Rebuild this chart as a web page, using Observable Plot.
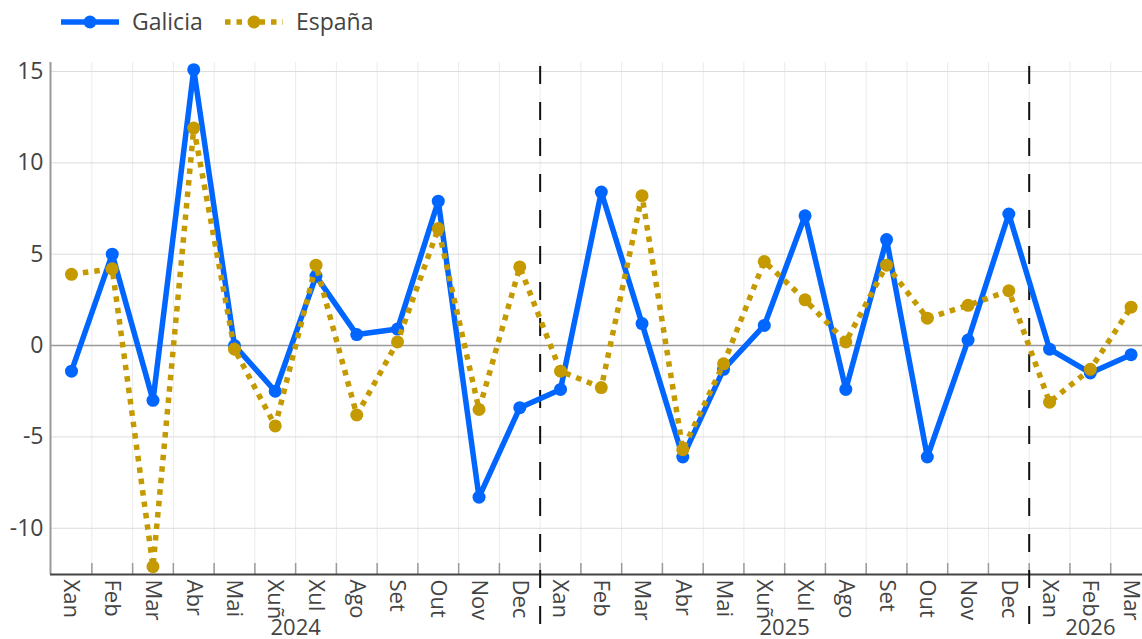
<!DOCTYPE html>
<html>
<head>
<meta charset="utf-8">
<script src="https://cdn.jsdelivr.net/npm/d3@7"></script>
<script src="https://cdn.jsdelivr.net/npm/@observablehq/plot@0.6"></script>
<style>
  html, body { margin: 0; padding: 0; background: #fff; }
  body { width: 1142px; height: 639px; overflow: hidden; font-family: "Open Sans", sans-serif; }
  #legend { height: 40px; }
  #legend svg, #chart svg { display: block; }
</style>
</head>
<body>
<div id="legend"></div>
<div id="chart"></div>
<script>
// ---- data ----
const monthLabels = ["Xan","Feb","Mar","Abr","Mai","Xuñ","Xul","Ago","Set","Out","Nov","Dec",
                     "Xan","Feb","Mar","Abr","Mai","Xuñ","Xul","Ago","Set","Out","Nov","Dec",
                     "Xan","Feb","Mar"];
const years = [2024,2024,2024,2024,2024,2024,2024,2024,2024,2024,2024,2024,
               2025,2025,2025,2025,2025,2025,2025,2025,2025,2025,2025,2025,
               2026,2026,2026];
const galicia = [-1.4, 5.0, -3.0, 15.1, 0.0, -2.5, 3.8, 0.6, 0.9, 7.9, -8.3, -3.4,
                 -2.4, 8.4, 1.2, -6.1, -1.3, 1.1, 7.1, -2.4, 5.8, -6.1, 0.3, 7.2,
                 -0.2, -1.5, -0.5];
const espana  = [3.9, 4.2, -12.1, 11.9, -0.2, -4.4, 4.4, -3.8, 0.2, 6.4, -3.5, 4.3,
                 -1.4, -2.3, 8.2, -5.7, -1.0, 4.6, 2.5, 0.2, 4.4, 1.5, 2.2, 3.0,
                 -3.1, -1.3, 2.1];
const seriesNames = ["Galicia", "España"];
const seriesColors = ["#0066ff", "#c49a00"];
const yTicks = [-10, -5, 0, 5, 10, 15];

// ---- derived tables ----
const idx = monthLabels.map((_, i) => i);
const rows = idx.map(i => ({i, month: monthLabels[i], year: years[i], galicia: galicia[i], espana: espana[i]}));
const boundaries = idx.slice(0, -1).map(i => i + 0.5);
const yearGroups = d3.groups(rows, d => d.year).map(([year, rs]) => ({year, center: d3.mean(rs, r => r.i), last: d3.max(rs, r => r.i)}));
const yearBreaks = yearGroups.slice(0, -1).map(g => g.last + 0.5);

const xDomain = [-0.515, 26.28];
const yDomain = [-12.53, 15.49];

const W = 1142, H = 599, mt = 22, mb = 65, ml = 50, mr = 0;
const plotH = H - mt - mb;
const font = "'Open Sans', sans-serif";

const chart = Plot.plot({
  width: W, height: H,
  marginTop: mt, marginBottom: mb, marginLeft: ml, marginRight: mr,
  style: {fontFamily: font, color: "#444", background: "#fff", overflow: "visible"},
  x: {type: "linear", domain: xDomain, axis: null},
  y: {domain: yDomain, axis: null},
  marks: [
    // vertical grid at month boundaries
    Plot.ruleX(boundaries, {stroke: "#ebebeb", strokeWidth: 1}),
    // horizontal grid
    Plot.ruleY(yTicks.filter(t => t !== 0), {stroke: "#dcdcdc", strokeWidth: 1}),
    Plot.ruleY([0], {stroke: "#9a9a9a", strokeWidth: 1.5}),
    // ticks at boundaries (inside plot)
    Plot.ruleX(boundaries, {stroke: "#999", strokeWidth: 1.5, insetTop: plotH - 11}),
    // axis lines
    Plot.ruleX([xDomain[0]], {stroke: "#999", strokeWidth: 2}),
    Plot.ruleY([yDomain[0]], {stroke: "#444", strokeWidth: 2}),
    // year separators
    Plot.ruleX(yearBreaks, {stroke: "#111", strokeWidth: 2, strokeDasharray: "18,18", insetTop: 4, insetBottom: -50, clip: false}),
    // y axis labels
    Plot.axisY({ticks: yTicks, tickSize: 0, tickPadding: 7, fontSize: 23, tickFormat: d => String(d), label: null}),
    // Galicia
    Plot.line(rows, {x: "i", y: "galicia", stroke: seriesColors[0], strokeWidth: 5.5, strokeLinejoin: "round"}),
    Plot.dot(rows, {x: "i", y: "galicia", fill: seriesColors[0], r: 6.5}),
    // España
    Plot.line(rows, {x: "i", y: "espana", stroke: seriesColors[1], strokeWidth: 5.5, strokeDasharray: "5.5,6", strokeLinecap: "butt"}),
    Plot.dot(rows, {x: "i", y: "espana", fill: seriesColors[1], r: 6.5}),
    // month labels
    Plot.text(rows, {x: "i", text: "month", frameAnchor: "bottom", dy: 5, rotate: 90, textAnchor: "start", lineAnchor: "middle", fontSize: 22, fill: "#444"}),
    // year labels
    Plot.text(yearGroups, {x: "center", text: d => String(d.year), frameAnchor: "bottom", dy: 53, lineAnchor: "middle", fontSize: 22, fill: "#444"})
  ]
});
document.getElementById("chart").appendChild(chart);

// ---- legend ----
const lg = d3.select("#legend").append("svg").attr("width", W).attr("height", 40)
  .style("font-family", font);
const legendItems = [
  {name: seriesNames[0], color: seriesColors[0], x0: 61, dash: null, r: 6.5},
  {name: seriesNames[1], color: seriesColors[1], x0: 225, dash: "5.5,6", r: 6.5}
];
legendItems.forEach(it => {
  const g = lg.append("g");
  g.append("line").attr("x1", it.x0).attr("x2", it.x0 + 58).attr("y1", 22).attr("y2", 22)
    .attr("stroke", it.color).attr("stroke-width", 5.5).attr("stroke-dasharray", it.dash);
  g.append("circle").attr("cx", it.x0 + 29).attr("cy", 22).attr("r", it.r).attr("fill", it.color);
  g.append("text").attr("x", it.x0 + 71).attr("y", 22).attr("dy", "0.35em")
    .attr("font-size", 23).attr("fill", "#444").text(it.name);
});
</script>
</body>
</html>
